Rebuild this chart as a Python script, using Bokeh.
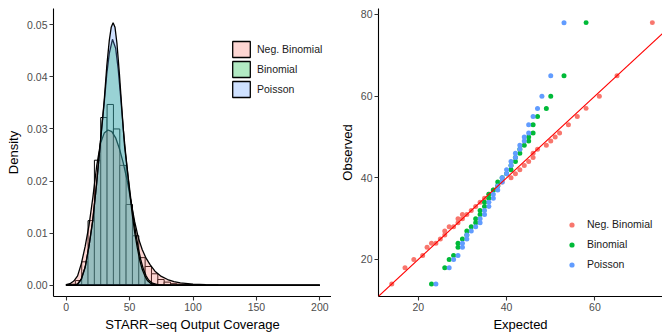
import numpy as np
from bokeh.plotting import figure
from bokeh.layouts import row
from bokeh.models import (Range1d, FixedTicker, Legend, LegendItem, Slope,
                          NumeralTickFormatter)
from bokeh.embed import file_html
from bokeh.resources import INLINE

FONT = "Liberation Sans"

# ---------------- data: left panel (histogram + fitted densities) ----------
hist_bin_start = 2.25
hist_bin_width = 5.0
hist_density = [0.0002, 0.0009, 0.0045, 0.0124, 0.0240, 0.0322, 0.0347, 0.0300,
                0.0230, 0.0155, 0.0095, 0.0053, 0.0036, 0.0022, 0.0011, 0.0006,
                0.0003, 0.0002, 0.0001]

nb_x = [0, 3, 6, 9, 12, 15, 18, 21, 24, 27, 30, 33, 36, 39, 42, 45, 48, 51, 54,
        57, 60, 63, 66, 70, 75, 80, 85, 90, 100, 110, 120, 140, 160, 200]
nb_y = [0.0001, 0.0003, 0.0008, 0.0018, 0.0042, 0.0075, 0.0115, 0.0168, 0.0228,
        0.0272, 0.0292, 0.0298, 0.0295, 0.0283, 0.0262, 0.0235, 0.0202, 0.0162,
        0.0122, 0.0090, 0.0068, 0.0052, 0.0040, 0.0027, 0.0017, 0.0011, 0.0007,
        0.00045, 0.0002, 0.0001, 0.00005, 0.00001, 0.0, 0.0]

binom_x = [0, 6, 9, 12, 15, 18, 21, 24, 27, 30, 32, 34, 36.5, 39, 41, 43, 45, 47,
           49, 51, 53, 55, 57, 59, 61, 63, 65, 68, 72, 78, 200]
binom_y = [0.0, 0.0, 0.0002, 0.0012, 0.0035, 0.0075, 0.0125, 0.0195, 0.0275,
           0.0350, 0.0405, 0.0445, 0.0472, 0.0455, 0.0415, 0.0360, 0.0300, 0.0250,
           0.0205, 0.0165, 0.0130, 0.0098, 0.0070, 0.0047, 0.0030, 0.0018, 0.0010,
           0.0004, 0.0001, 0.0, 0.0]

pois_x = [0, 6, 9, 12, 15, 18, 21, 24, 27, 30, 32, 34, 35.5, 37, 38.5, 40, 42, 44,
          46, 48, 50, 52, 54, 56, 58, 60, 62, 64, 67, 70, 75, 200]
pois_y = [0.0, 0.0, 0.0002, 0.0012, 0.0035, 0.0075, 0.0125, 0.0195, 0.0275, 0.0355,
          0.0420, 0.0470, 0.0495, 0.0504, 0.0495, 0.0465, 0.0405, 0.0335, 0.0268,
          0.0225, 0.0180, 0.0138, 0.0102, 0.0073, 0.0048, 0.0030, 0.0018, 0.0009,
          0.0003, 0.0001, 0.0, 0.0]

# ---------------- data: right panel (Q-Q) ------------------------------------
nb_expected = [14, 17, 19, 21, 22, 23, 24, 25, 26, 26, 27, 28, 29, 29, 30, 30, 31,
               32, 33, 34, 35, 36, 37, 38, 39, 41, 42, 43, 44, 45, 46, 46, 47, 49,
               50, 51, 52, 54, 56, 58, 61, 65, 73]
nb_observed = [14, 18, 20, 21, 23, 24, 24, 25, 26, 27, 28, 28, 29, 30, 30, 31, 31,
               32, 33, 34, 35, 36, 37, 38, 39, 40, 41, 42, 43, 44, 45, 46, 47, 48,
               49, 50, 51, 53, 55, 57, 60, 65, 78]

binom_expected = [23, 26, 27, 28, 29, 29, 30, 31, 31, 32, 33, 33, 34, 34, 35, 35,
                  36, 36, 37, 38, 38, 39, 40, 41, 41, 42, 42, 43, 43, 44, 45, 45,
                  46, 46, 47, 49, 50, 53, 58]
binom_observed = [14, 18, 20, 21, 23, 24, 25, 26, 27, 28, 29, 30, 31, 32, 33, 34,
                  35, 36, 37, 38, 39, 40, 41, 42, 43, 44, 45, 46, 47, 48, 49, 50,
                  51, 53, 55, 57, 60, 65, 78]

pois_expected = [24, 27, 28, 29, 30, 30, 31, 31, 32, 33, 34, 34, 35, 35, 36, 36,
                 37, 37, 38, 38, 39, 39, 40, 40, 41, 41, 42, 42, 43, 43, 44, 44,
                 45, 45, 46, 47, 48, 50, 53]
pois_observed = [14, 18, 20, 21, 23, 24, 25, 26, 27, 28, 29, 30, 31, 32, 33, 34,
                 35, 36, 37, 38, 39, 40, 41, 42, 43, 44, 45, 46, 47, 48, 49, 50,
                 51, 53, 55, 57, 60, 65, 78]

labels = ["Neg. Binomial", "Binomial", "Poisson"]
colors = ["#F8766D", "#00BA38", "#619CFF"]


def style(p):
    p.grid.visible = False
    p.outline_line_color = None
    p.background_fill_color = "white"
    p.border_fill_color = "white"
    for ax in p.axis:
        ax.axis_line_color = "black"
        ax.axis_line_width = 1.1
        ax.major_tick_line_color = "#333333"
        ax.major_tick_line_width = 1.1
        ax.major_tick_out = 4
        ax.major_tick_in = 0
        ax.minor_tick_line_color = None
        ax.major_label_text_font = FONT
        ax.major_label_text_font_size = "10.5px"
        ax.major_label_text_color = "#4D4D4D"
        ax.major_label_standoff = 2
        ax.axis_label_text_font = FONT
        ax.axis_label_text_font_size = "13px"
        ax.axis_label_text_font_style = "normal"
        ax.axis_label_text_color = "black"
        ax.axis_label_standoff = 3


# ---------------- left panel -------------------------------------------------
p1 = figure(width=331, height=334, output_backend="svg", toolbar_location=None,
            x_range=Range1d(-10.0, 209.2), y_range=Range1d(-0.00216, 0.05312),
            min_border_left=53, min_border_right=0, min_border_top=8,
            min_border_bottom=37)
style(p1)
p1.xaxis.axis_label = "STARR\u2212seq Output Coverage"
p1.yaxis.axis_label = "Density"
p1.xaxis.ticker = FixedTicker(ticks=[0, 50, 100, 150, 200])
p1.yaxis.ticker = FixedTicker(ticks=[0, 0.01, 0.02, 0.03, 0.04, 0.05])
p1.yaxis.formatter = NumeralTickFormatter(format="0.00")

edges = hist_bin_start + hist_bin_width * np.arange(len(hist_density) + 1)
p1.quad(left=edges[:-1], right=edges[1:], bottom=0, top=hist_density,
        fill_color="white", line_color="black", line_width=1)


def area(p, xs, ys, color):
    px = list(xs) + [xs[-1], xs[0]]
    py = list(ys) + [0, 0]
    return p.patch(px, py, fill_color=color, fill_alpha=0.3,
                   line_color="black", line_width=1.3)


r_nb = area(p1, nb_x, nb_y, colors[0])
r_bi = area(p1, binom_x, binom_y, colors[1])
r_po = area(p1, pois_x, pois_y, colors[2])

leg1 = Legend(items=[LegendItem(label=labels[0], renderers=[r_nb]),
                     LegendItem(label=labels[1], renderers=[r_bi]),
                     LegendItem(label=labels[2], renderers=[r_po])],
              location=(177, 197), glyph_width=22, glyph_height=20,
              label_height=20, spacing=0, padding=0, margin=0,
              label_standoff=5, border_line_color=None,
              background_fill_alpha=0, label_text_font=FONT,
              label_text_font_size="10.5px", label_text_color="#1A1A1A")
p1.add_layout(leg1)

# ---------------- right panel ------------------------------------------------
p2 = figure(width=331, height=334, output_backend="svg", toolbar_location=None,
            x_range=Range1d(11.0, 75.3), y_range=Range1d(10.93, 81.46),
            min_border_left=47, min_border_right=0, min_border_top=8,
            min_border_bottom=36)
style(p2)
p2.xaxis.axis_label = "Expected"
p2.yaxis.axis_label = "Observed"
p2.xaxis.ticker = FixedTicker(ticks=[20, 40, 60])
p2.yaxis.ticker = FixedTicker(ticks=[20, 40, 60, 80])

s_nb = p2.scatter(nb_expected, nb_observed, size=5, fill_color=colors[0],
                  line_color=None)
s_bi = p2.scatter(binom_expected, binom_observed, size=5, fill_color=colors[1],
                  line_color=None)
s_po = p2.scatter(pois_expected, pois_observed, size=5, fill_color=colors[2],
                  line_color=None)
p2.add_layout(Slope(gradient=1, y_intercept=0, line_color="red", line_width=1.1))

leg2 = Legend(items=[LegendItem(label=labels[0], renderers=[s_nb]),
                     LegendItem(label=labels[1], renderers=[s_bi]),
                     LegendItem(label=labels[2], renderers=[s_po])],
              location=(187, 22), glyph_width=13, glyph_height=13,
              label_height=20, spacing=0, padding=0, margin=0,
              label_standoff=9, border_line_color=None,
              background_fill_alpha=0, label_text_font=FONT,
              label_text_font_size="10.5px", label_text_color="#1A1A1A")
p2.add_layout(leg2)

layout = row(p1, p2)
open("out.html", "w").write(file_html(layout, INLINE))
